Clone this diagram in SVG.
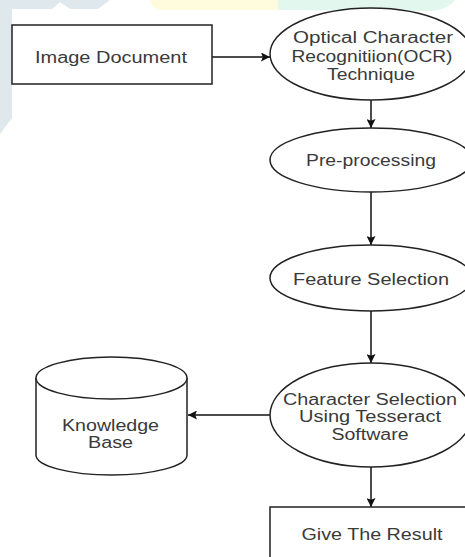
<svg xmlns="http://www.w3.org/2000/svg" width="465" height="557" viewBox="0 0 465 557">
  <defs>
    <marker id="arrow" viewBox="0 0 10 10" refX="10" refY="5" markerWidth="9" markerHeight="9" markerUnits="userSpaceOnUse" orient="auto">
      <path d="M0,0 L10,5 L0,10 L2,5 Z" fill="#111"/>
    </marker>
    <style>
      .shape { fill: #ffffff; stroke: #222; stroke-width: 1.5; }
      .label { font-family: "Liberation Sans", Arial, sans-serif; font-size: 16px; fill: #3a3a3a; text-anchor: middle; }
      .edge { fill: none; stroke: #111; stroke-width: 1.5; marker-end: url(#arrow); }
      .wm-blue { fill: #dfe8ec; }
      .wm-yellow { fill: #fffbdc; }
      .wm-green { fill: #e2f7ee; }
    </style>
  </defs>

  <rect width="465" height="557" fill="#ffffff"/>

  <!-- faint background marks -->
  <g id="background">
    <path class="wm-blue" d="M0,0 L110,0 L98,9 L70,9 L60,2 L52,9 L12,9 L12,118 L0,134 Z"/>
    <path class="wm-yellow" d="M150,0 L278,0 L278,10 L162,10 Q150,8 150,0 Z"/>
    <path class="wm-green" d="M278,0 L455,0 Q448,10 430,11 L278,10 Z"/>
  </g>

  <g id="connectors">
    <line class="edge" x1="212" y1="57" x2="270" y2="57"/>
    <line class="edge" x1="371" y1="100" x2="371" y2="128"/>
    <line class="edge" x1="371" y1="192" x2="371" y2="245"/>
    <line class="edge" x1="371" y1="311" x2="371" y2="363"/>
    <line class="edge" x1="270" y1="415" x2="188" y2="415"/>
    <line class="edge" x1="371" y1="467" x2="371" y2="507"/>
  </g>

  <g id="image-document">
    <rect class="shape" x="12" y="25" width="200" height="59" stroke-width="2"/>
    <text class="label" x="111" y="63" textLength="152" lengthAdjust="spacingAndGlyphs" font-size="17">Image Document</text>
  </g>

  <g id="ocr-technique">
    <ellipse class="shape" cx="371" cy="54" rx="101" ry="46"/>
    <text class="label" x="373" y="43" textLength="160" lengthAdjust="spacingAndGlyphs">Optical Character</text>
    <text class="label" x="372" y="62" textLength="161" lengthAdjust="spacingAndGlyphs">Recognitiion(OCR)</text>
    <text class="label" x="371" y="80" textLength="88" lengthAdjust="spacingAndGlyphs">Technique</text>
  </g>

  <g id="pre-processing">
    <ellipse class="shape" cx="371" cy="160" rx="101" ry="32"/>
    <text class="label" x="371" y="166" textLength="130" lengthAdjust="spacingAndGlyphs">Pre-processing</text>
  </g>

  <g id="feature-selection">
    <ellipse class="shape" cx="371" cy="278" rx="101" ry="33"/>
    <text class="label" x="371" y="285" textLength="156" lengthAdjust="spacingAndGlyphs">Feature Selection</text>
  </g>

  <g id="character-selection">
    <ellipse class="shape" cx="371" cy="415" rx="101" ry="52"/>
    <text class="label" x="370" y="405" textLength="174" lengthAdjust="spacingAndGlyphs">Character Selection</text>
    <text class="label" x="370" y="422" textLength="142" lengthAdjust="spacingAndGlyphs">Using Tesseract</text>
    <text class="label" x="370" y="440" textLength="77" lengthAdjust="spacingAndGlyphs">Software</text>
  </g>

  <g id="knowledge-base">
    <path class="shape" d="M36,378 L36,455 A75.5,20 0 0 0 187,455 L187,378"/>
    <ellipse class="shape" cx="111.5" cy="378" rx="75.5" ry="21"/>
    <text class="label" x="110.5" y="431" textLength="97" lengthAdjust="spacingAndGlyphs">Knowledge</text>
    <text class="label" x="110.5" y="448" textLength="45" lengthAdjust="spacingAndGlyphs">Base</text>
  </g>

  <g id="give-result">
    <rect class="shape" x="270" y="507" width="210" height="70"/>
    <text class="label" x="372" y="540" textLength="141" lengthAdjust="spacingAndGlyphs">Give The Result</text>
  </g>
</svg>
